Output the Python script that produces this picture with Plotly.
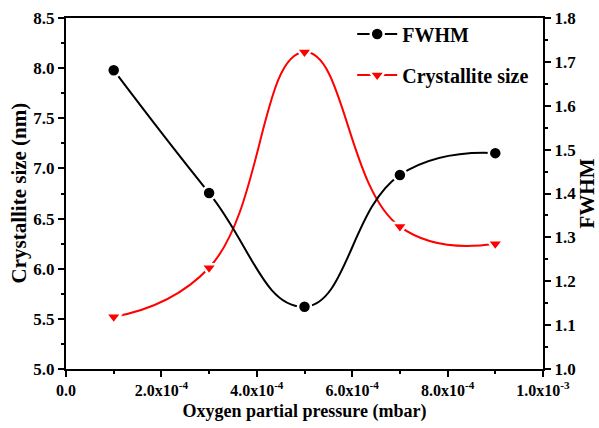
import plotly.graph_objects as go

pressure = [1e-4, 3e-4, 5e-4, 7e-4, 9e-4]
fwhm = [1.681, 1.401, 1.142, 1.442, 1.492]
crystallite = [5.52, 6.01, 8.16, 6.42, 6.25]

x_tickvals = [0, 2e-4, 4e-4, 6e-4, 8e-4, 1e-3]
x_ticktext = ["0.0", "2.0x10<sup>-4</sup>", "4.0x10<sup>-4</sup>", "6.0x10<sup>-4</sup>",
              "8.0x10<sup>-4</sup>", "1.0x10<sup>-3</sup>"]

FONT = "Liberation Serif"

fig = go.Figure()
fig.add_trace(go.Scatter(
    x=pressure, y=fwhm, name="FWHM", yaxis="y2", legendgroup="a",
    mode="lines+markers",
    line=dict(color="black", width=2, shape="spline", smoothing=1.3),
    marker=dict(symbol="circle", size=13, color="black", line=dict(color="white", width=2.5)),
))
fig.add_trace(go.Scatter(
    x=pressure, y=crystallite, name="Crystallite size", legendgroup="b",
    mode="lines+markers",
    line=dict(color="red", width=2, shape="spline", smoothing=1.3),
    marker=dict(symbol="triangle-down", size=14, color="red", line=dict(color="white", width=2.5)),
))

axis_common = dict(
    showline=True, linecolor="black", linewidth=2,
    ticks="outside", tickcolor="black", tickwidth=2, ticklen=6,
    showgrid=False, zeroline=False,
)

fig.update_layout(
    width=599, height=428,
    margin=dict(l=66, r=56, t=18, b=59, autoexpand=False),
    paper_bgcolor="white", plot_bgcolor="white",
    font=dict(family=FONT, color="black", size=17, weight="bold"),
    xaxis=dict(
        range=[0, 1e-3], tickvals=x_tickvals, ticktext=x_ticktext,
        minor=dict(ticks="outside", tickcolor="black", tickwidth=2, ticklen=3, dtick=1e-4),
        title=dict(text="Oxygen partial pressure (mbar)",
                   font=dict(family=FONT, size=18, weight="bold"), standoff=6),
        mirror=True, automargin=False, **axis_common,
    ),
    yaxis=dict(
        range=[5.0, 8.5], dtick=0.5, tickformat=".1f",
        minor=dict(ticks="outside", tickcolor="black", tickwidth=2, ticklen=3, dtick=0.25),
        automargin=False, **axis_common,
    ),
    yaxis2=dict(
        range=[1.0, 1.8], dtick=0.1, tickformat=".1f", overlaying="y", side="right",
        minor=dict(ticks="outside", tickcolor="black", tickwidth=2, ticklen=3, dtick=0.05),
        title=dict(text="FWHM", font=dict(family=FONT, size=21, weight="bold"), standoff=10),
        automargin=False, **axis_common,
    ),
    legend=dict(
        x=0.6, y=1.01, xanchor="left", yanchor="top",
        font=dict(family=FONT, size=20, color="black", weight="bold"),
        bgcolor="rgba(0,0,0,0)", tracegroupgap=12, itemwidth=40,
    ),
    annotations=[dict(
        text="Crystallite size (nm)", xref="paper", yref="paper",
        x=(18 - 66) / 477, y=0.5, xanchor="center", yanchor="middle",
        textangle=-90, showarrow=False,
        font=dict(family=FONT, size=21, weight="bold", color="black"),
    )],
)
fig.update_xaxes(tickfont=dict(family=FONT, size=16, color="black", weight="bold"))
fig.update_yaxes(tickfont=dict(family=FONT, size=17, color="black", weight="bold"))

fig.write_html("out.html")
